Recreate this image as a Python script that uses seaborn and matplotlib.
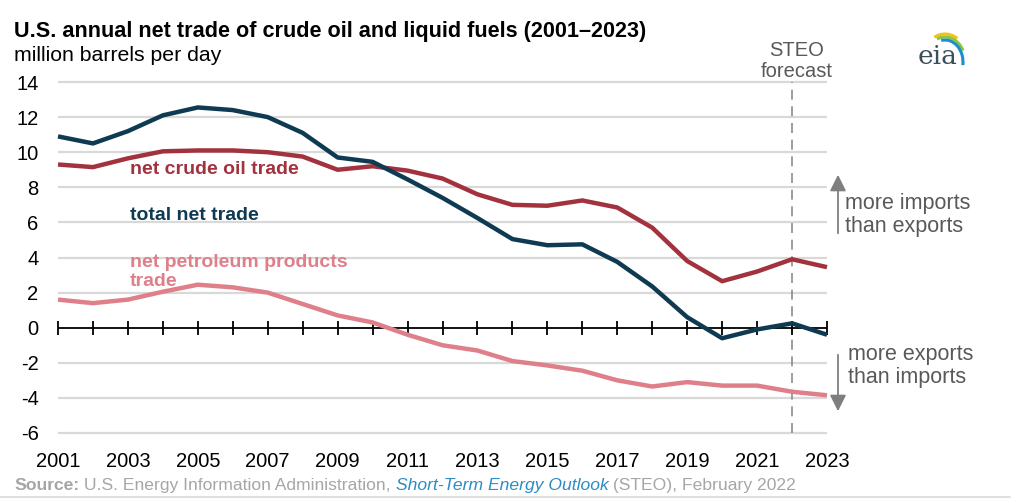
import matplotlib
matplotlib.use("Agg")
import matplotlib.pyplot as plt
import seaborn as sns
import pandas as pd
import numpy as np
from matplotlib.patches import Arc

years = list(range(2001, 2024))
total_net = [10.9, 10.5, 11.2, 12.1, 12.55, 12.4, 12.0, 11.1, 9.7, 9.45, 8.45, 7.4,
             6.25, 5.05, 4.7, 4.75, 3.75, 2.35, 0.6, -0.6, -0.1, 0.25, -0.4]
crude_net = [9.3, 9.15, 9.65, 10.05, 10.1, 10.1, 10.0, 9.75, 9.0, 9.2, 8.95, 8.5,
             7.6, 7.0, 6.95, 7.25, 6.85, 5.7, 3.8, 2.65, 3.2, 3.9, 3.45]
products_net = [1.6, 1.4, 1.6, 2.05, 2.45, 2.3, 2.0, 1.35, 0.7, 0.3, -0.4, -1.0,
                -1.3, -1.9, -2.15, -2.45, -3.0, -3.35, -3.1, -3.3, -3.3, -3.65, -3.85]
series_names = ["net crude oil trade", "total net trade", "net petroleum products\ntrade"]
series_colors = ["#a3323f", "#0e3a52", "#df7f8a"]
year_ticks = list(range(2001, 2024, 2))
y_ticks = list(range(-6, 15, 2))
forecast_year = 2022

df = pd.DataFrame({
    "year": years * 3,
    "value": crude_net + total_net + products_net,
    "series": [series_names[0]] * len(years) + [series_names[1]] * len(years) + [series_names[2]] * len(years),
})

sns.set_theme(style="white")
plt.rcParams["font.family"] = ["Liberation Sans", "DejaVu Sans"]

fig = plt.figure(figsize=(10.24, 5.03), dpi=100)
ax = fig.add_axes([58 / 1024, 1 - 433 / 503, (827 - 58) / 1024, (433 - 82) / 503])

# grid lines
for yv in y_ticks:
    if yv != 0:
        ax.axhline(yv, color="#d9d9d9", lw=1.6, zorder=0)

sns.lineplot(data=df, x="year", y="value", hue="series", hue_order=series_names,
             palette=series_colors, lw=3.2, legend=False, ax=ax, zorder=3)
for ln in ax.get_lines():
    ln.set_clip_on(False)
    ln.set_solid_capstyle("butt")

# zero line with year ticks
ax.axhline(0, color="black", lw=1.3, zorder=2)
ax.scatter(years, [0] * len(years), marker="|", s=110, color="black", linewidths=1.3, zorder=2, clip_on=False)

# forecast divider
ax.axvline(forecast_year, color="#8c8c8c", lw=1.2, ls=(0, (6, 4)), zorder=1)

ax.set_xlim(2001, 2023)
ax.set_ylim(-6, 14)
ax.set_yticks(y_ticks)
ax.set_yticklabels([str(v) for v in y_ticks])
ax.set_xticks(year_ticks)
ax.set_xticklabels([str(v) for v in year_ticks])
narrow = ["Liberation Sans Narrow", "Liberation Sans", "DejaVu Sans"]
ax.tick_params(axis="both", length=0, labelsize=14.5, colors="black")
ax.tick_params(axis="x", pad=14)
ax.tick_params(axis="y", pad=14)
for lab in ax.get_xticklabels() + ax.get_yticklabels():
    lab.set_family(narrow)
for lab in ax.get_yticklabels():
    lab.set_horizontalalignment("right")
ax.set_xlabel("")
ax.set_ylabel("")
for s in ax.spines.values():
    s.set_visible(False)
ax.set_facecolor("none")

# series labels
lx = 2003.06
ax.text(lx, 9.0, series_names[0], color=series_colors[0], fontsize=14, fontweight="bold", va="center")
ax.text(lx, 6.4, series_names[1], color=series_colors[1], fontsize=14, fontweight="bold", va="center")
ax.text(lx, 3.2, series_names[2], color=series_colors[2], fontsize=14, fontweight="bold", va="center",
        linespacing=1.15)

# title and units
fig.text(14 / 1024, 1 - 37 / 503, "U.S. annual net trade of crude oil and liquid fuels (2001\u20132023)",
         fontsize=15.6, fontweight="bold", color="black", va="baseline")
fig.text(14 / 1024, 1 - 61 / 503, "million barrels per day", fontsize=15.3, color="black", va="baseline")

# STEO forecast label
fig.text(797 / 1024, 1 - 61 / 503, "STEO\nforecast", fontsize=14.5, color="#595959", ha="center",
         va="center", linespacing=1.15)

# direction arrows
arrow_col = "#7f7f7f"
fig.patches.append(matplotlib.patches.FancyArrowPatch(
    (838 / 1024, 1 - 236 / 503), (838 / 1024, 1 - 172 / 503), transform=fig.transFigure,
    arrowstyle="-|>,head_length=0.7,head_width=0.35", mutation_scale=14, color=arrow_col, lw=1.3))
fig.patches.append(matplotlib.patches.FancyArrowPatch(
    (838 / 1024, 1 - 352 / 503), (838 / 1024, 1 - 414 / 503), transform=fig.transFigure,
    arrowstyle="-|>,head_length=0.7,head_width=0.35", mutation_scale=14, color=arrow_col, lw=1.3))
fig.text(845 / 1024, 1 - 215 / 503, "more imports\nthan exports", fontsize=15.5, color="#595959",
         va="center", linespacing=1.1)
fig.text(848 / 1024, 1 - 366 / 503, "more exports\nthan imports", fontsize=15.5, color="#595959",
         va="center", linespacing=1.1)

# eia logo
lax = fig.add_axes([915 / 1024, 1 - 68 / 503, 50 / 1024, 42 / 503])
lax.set_xlim(0, 50)
lax.set_ylim(0, 42)
lax.axis("off")
lax.text(23, 12, "eia", fontsize=19, family="DejaVu Serif", color="#3a4f5c", ha="center", va="center")
lax.add_patch(Arc((30, 8), 44, 52, theta1=60, theta2=115, color="#f2c21b", lw=2.2))
lax.add_patch(Arc((30, 7), 40, 48, theta1=30, theta2=110, color="#8cc63f", lw=2.2))
lax.add_patch(Arc((30, 6), 36, 44, theta1=-10, theta2=100, color="#1b8ed1", lw=2.2))

# source line
fig.canvas.draw()
renderer = fig.canvas.get_renderer()
x0 = 14
yb = 1 - 490 / 503
parts = [("Source:", "bold", "normal", "#a6a6a6"),
         (" U.S. Energy Information Administration, ", "normal", "normal", "#a6a6a6"),
         ("Short-Term Energy Outlook", "normal", "italic", "#2b8cc4"),
         (" (STEO), February 2022", "normal", "normal", "#a6a6a6")]
xpix = x0
for txt, wt, st, col in parts:
    t = fig.text(xpix / 1024, yb, txt, fontsize=12.6, fontweight=wt, fontstyle=st, color=col, va="baseline")
    bb = t.get_window_extent(renderer=renderer)
    xpix += bb.width
fig.add_artist(plt.Line2D([0, 1010 / 1024], [1 - 497 / 503, 1 - 497 / 503], transform=fig.transFigure,
                          color="#d9d9d9", lw=1.2))

fig.savefig("out.png", dpi=100, facecolor="white")
